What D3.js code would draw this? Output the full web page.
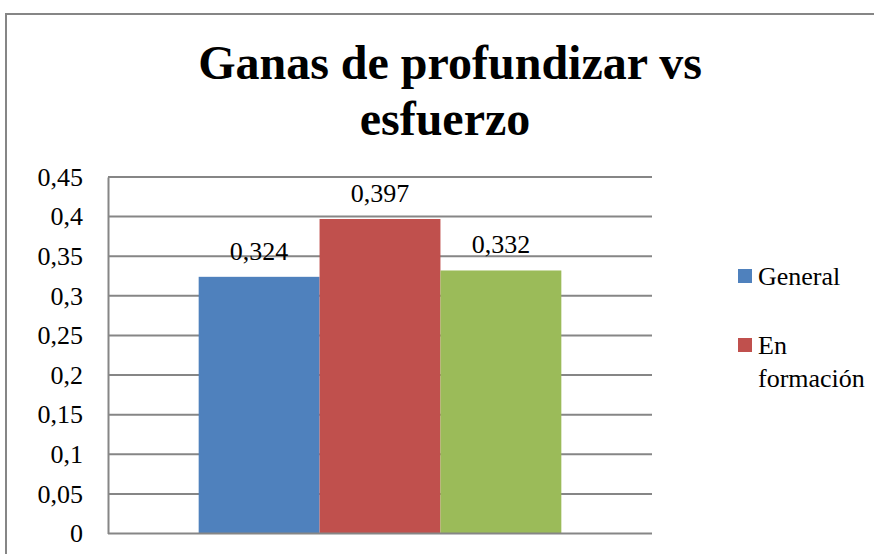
<!DOCTYPE html>
<html>
<head>
<meta charset="utf-8">
<script src="https://cdn.jsdelivr.net/npm/d3@7"></script>
<style>
  body { margin: 0; background: #fff; }
</style>
</head>
<body>
<script>
// Data
const seriesNames = ['General', 'En formación', 'Serie 3'];
const seriesValues = [0.324, 0.397, 0.332];
const seriesColors = ['#4F81BD', '#C0504D', '#9BBB59'];
const legendNames = ['General', 'En formación'];
const yTicks = [0, 0.05, 0.1, 0.15, 0.2, 0.25, 0.3, 0.35, 0.4, 0.45];

const fullWidth = 874;
const fullHeight = 554;
const plot = { left: 108, right: 652, top: 177, bottom: 533.5 };
const fontFam = '"Liberation Serif"';
const labelSize = 26;

const fmt = v => String(+v.toFixed(3)).replace('.', ',');

const svg = d3.select('body')
  .append('svg')
  .attr('width', fullWidth)
  .attr('height', fullHeight);

// Outer chart frame (extends past the crop)
svg.append('rect')
  .attr('x', 6)
  .attr('y', 14)
  .attr('width', 900)
  .attr('height', 600)
  .attr('fill', '#fff')
  .attr('stroke', '#868686')
  .attr('stroke-width', 2);

// Title
svg.append('text')
  .attr('x', 450)
  .attr('y', 79)
  .attr('text-anchor', 'middle')
  .attr('font-family', fontFam)
  .attr('font-size', 48)
  .attr('font-weight', 'bold')
  .text('Ganas de profundizar vs');
svg.append('text')
  .attr('x', 445)
  .attr('y', 135)
  .attr('text-anchor', 'middle')
  .attr('font-family', fontFam)
  .attr('font-size', 48)
  .attr('font-weight', 'bold')
  .text('esfuerzo');

// Scales
const yScale = d3.scaleLinear()
  .domain([0, 0.45])
  .range([plot.bottom, plot.top]);

const xScale = d3.scaleBand()
  .domain(seriesNames)
  .range([plot.left, plot.right])
  .paddingInner(0)
  .paddingOuter(0.75);

// Gridlines
svg.append('g')
  .selectAll('line')
  .data(yTicks.filter(d => d > 0))
  .enter()
  .append('line')
  .attr('x1', plot.left)
  .attr('x2', plot.right)
  .attr('y1', d => yScale(d))
  .attr('y2', d => yScale(d))
  .attr('stroke', '#868686')
  .attr('stroke-width', 2);

// Y axis
const yAxis = d3.axisLeft(yScale)
  .tickValues(yTicks)
  .tickFormat(fmt)
  .tickSize(0)
  .tickPadding(25);

const yG = svg.append('g')
  .attr('transform', `translate(${plot.left}, 0)`)
  .call(yAxis);
yG.select('.domain').attr('stroke', '#868686').attr('stroke-width', 2);
yG.selectAll('text')
  .attr('fill', '#000')
  .attr('font-family', fontFam)
  .attr('font-size', labelSize);

// Bars
svg.append('g')
  .selectAll('rect')
  .data(seriesValues)
  .enter()
  .append('rect')
  .attr('x', (d, i) => xScale(seriesNames[i]))
  .attr('width', xScale.bandwidth())
  .attr('y', d => yScale(d))
  .attr('height', d => plot.bottom - yScale(d))
  .attr('fill', (d, i) => seriesColors[i]);

// X axis line
svg.append('line')
  .attr('x1', plot.left)
  .attr('x2', plot.right)
  .attr('y1', plot.bottom)
  .attr('y2', plot.bottom)
  .attr('stroke', '#868686')
  .attr('stroke-width', 2);

// Data labels
svg.append('g')
  .selectAll('text')
  .data(seriesValues)
  .enter()
  .append('text')
  .attr('x', (d, i) => xScale(seriesNames[i]) + xScale.bandwidth() / 2)
  .attr('y', d => yScale(d) - 17)
  .attr('text-anchor', 'middle')
  .attr('font-family', fontFam)
  .attr('font-size', labelSize)
  .text(fmt);

// Legend
const legY = [276, 345];
legendNames.forEach((name, i) => {
  svg.append('rect')
    .attr('x', 738)
    .attr('y', legY[i] - 7)
    .attr('width', 14)
    .attr('height', 14)
    .attr('fill', seriesColors[i]);
  name.split(' ').forEach((w, j) => {
    svg.append('text')
      .attr('x', 758)
      .attr('y', legY[i] + 9 + j * 33)
      .attr('font-family', fontFam)
      .attr('font-size', labelSize)
      .text(w);
  });
});
</script>
</body>
</html>
